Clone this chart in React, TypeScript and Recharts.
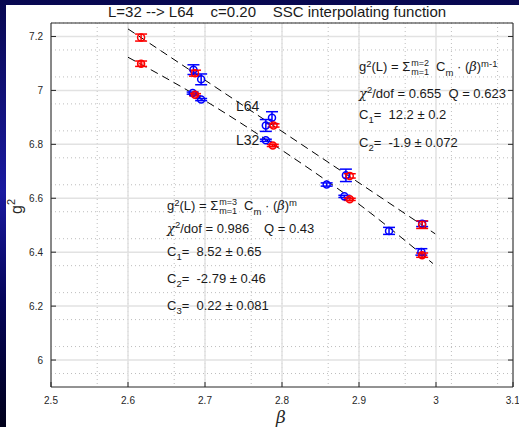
import React from 'react';
import {
  ComposedChart,
  Scatter,
  Line,
  XAxis,
  YAxis,
  CartesianGrid,
  ErrorBar,
} from 'recharts';

// beta (b), g^2 (g), error (e)
const blueUpper = [
  { b: 2.685, g: 7.077, e: 0.018 },
  { b: 2.695, g: 7.041, e: 0.02 },
  { b: 2.779, g: 6.87, e: 0.022 },
  { b: 2.787, g: 6.899, e: 0.022 },
  { b: 2.883, g: 6.685, e: 0.023 },
  { b: 2.982, g: 6.505, e: 0.01 },
];
const blueLower = [
  { b: 2.684, g: 6.99, e: 0.004 },
  { b: 2.695, g: 6.966, e: 0.004 },
  { b: 2.779, g: 6.815, e: 0.004 },
  { b: 2.858, g: 6.651, e: 0.006 },
  { b: 2.881, g: 6.607, e: 0.004 },
  { b: 2.939, g: 6.479, e: 0.013 },
  { b: 2.981, g: 6.401, e: 0.012 },
];
const redUpper = [
  { b: 2.617, g: 7.196, e: 0.013 },
  { b: 2.687, g: 7.064, e: 0.011 },
  { b: 2.789, g: 6.87, e: 0.006 },
  { b: 2.888, g: 6.683, e: 0.008 },
  { b: 2.982, g: 6.502, e: 0.014 },
];
const redLower = [
  { b: 2.617, g: 7.099, e: 0.01 },
  { b: 2.687, g: 6.984, e: 0.004 },
  { b: 2.788, g: 6.796, e: 0.004 },
  { b: 2.888, g: 6.596, e: 0.004 },
  { b: 2.982, g: 6.389, e: 0.008 },
];

// dashed fit curves
const fitL64 = [
  { b: 2.6, g: 7.228 },
  { b: 2.8, g: 6.848 },
  { b: 2.999, g: 6.468 },
];
const fitL32 = [
  { b: 2.6, g: 7.123 },
  { b: 2.7, g: 6.962 },
  { b: 2.8, g: 6.778 },
  { b: 2.9, g: 6.578 },
  { b: 2.996, g: 6.358 },
];

const betaTicks = [2.5, 2.6, 2.7, 2.8, 2.9, 3, 3.1];
const gTicks = [6, 6.2, 6.4, 6.6, 6.8, 7, 7.2];
const minorBeta = Array.from({ length: 29 }, (_, i) => +(2.52 + i * 0.02).toFixed(2));
const minorG = Array.from({ length: 27 }, (_, i) => +(5.95 + i * 0.05).toFixed(2));

const font = '"Liberation Sans", Arial, Helvetica, sans-serif';
const tickStyle = { fontSize: 10, fill: '#262626', fontFamily: font };
const axisColor = '#262626';

const circle = (color: string, fill: string) => (props: any) => (
  <circle cx={props.cx} cy={props.cy} r={3.5} fill={fill} stroke={color} strokeWidth={1.5} />
);

const Stack = ({ top, bottom }: { top: string; bottom: string }) => (
  <span
    style={{
      display: 'inline-flex',
      flexDirection: 'column',
      fontSize: 9,
      lineHeight: '9px',
      verticalAlign: 'middle',
      margin: '0 7px 0 1px',
    }}
  >
    <span>{top}</span>
    <span>{bottom}</span>
  </span>
);

const sup = { fontSize: 9.5, lineHeight: 0, verticalAlign: '0.5em' } as const;
const sub = { fontSize: 9.5, lineHeight: 0, verticalAlign: '-0.45em' } as const;
const greek = { fontFamily: '"DejaVu Serif", serif', fontStyle: 'italic' } as const;

const Txt = ({ x, y, children, size = 13 }: any) => (
  <div
    style={{
      position: 'absolute',
      left: x,
      top: y - 7,
      fontSize: size,
      lineHeight: '14px',
      fontFamily: font,
      color: '#1a1a1a',
      whiteSpace: 'pre',
    }}
  >
    {children}
  </div>
);

export default function App() {
  return (
    <div
      style={{
        position: 'fixed',
        left: 0,
        top: 0,
        width: 519,
        height: 427,
        overflow: 'hidden',
        background: 'linear-gradient(180deg, #080850 0%, #1a1aa0 45%, #05055a 70%, #00001a 100%)',
      }}
    >
      <div style={{ position: 'absolute', left: 6, top: 5, width: 513, height: 422, background: '#fff' }} />
      <div style={{ position: 'absolute', left: 0, top: 0 }}>
        <ComposedChart width={519} height={427} margin={{ top: 22, right: 5, bottom: 10, left: 11 }}>
          <CartesianGrid
            verticalValues={minorBeta}
            horizontalValues={minorG}
            stroke="#bdbdbd"
            strokeDasharray="1 3"
            fill="none"
          />
          <CartesianGrid
            verticalValues={betaTicks}
            horizontalValues={gTicks}
            stroke="#e2e2e2"
            strokeWidth={1.5}
            fill="none"
          />
          <XAxis
            dataKey="b"
            type="number"
            domain={[2.5, 3.1]}
            ticks={betaTicks}
            allowDataOverflow
            height={30}
            tickSize={-5}
            tickMargin={15}
            stroke={axisColor}
            tick={tickStyle}
          />
          <XAxis
            xAxisId="top"
            orientation="top"
            type="number"
            domain={[2.5, 3.1]}
            ticks={betaTicks}
            allowDataOverflow
            height={1}
            tickSize={-5}
            tickFormatter={() => ''}
            stroke={axisColor}
          />
          <YAxis
            dataKey="g"
            type="number"
            domain={[5.9, 7.25]}
            ticks={gTicks}
            allowDataOverflow
            width={40}
            tickSize={-5}
            tickMargin={13}
            stroke={axisColor}
            tick={tickStyle}
          />
          <YAxis
            yAxisId="right"
            orientation="right"
            type="number"
            domain={[5.9, 7.25]}
            ticks={gTicks}
            allowDataOverflow
            width={1}
            tickSize={-5}
            tickFormatter={() => ''}
            stroke={axisColor}
          />
          <Line
            data={fitL64}
            dataKey="g"
            type="monotone"
            stroke="#000"
            strokeWidth={1}
            strokeDasharray="8 5"
            dot={false}
            isAnimationActive={false}
          />
          <Line
            data={fitL32}
            dataKey="g"
            type="monotone"
            stroke="#000"
            strokeWidth={1}
            strokeDasharray="8 5"
            dot={false}
            isAnimationActive={false}
          />
          <Scatter data={blueUpper} dataKey="g" shape={circle('#0000ff', 'none')} isAnimationActive={false}>
            <ErrorBar dataKey="e" direction="y" width={6} stroke="#0000ff" strokeWidth={1.5} />
          </Scatter>
          <Scatter data={blueLower} dataKey="g" shape={circle('#0000ff', 'none')} isAnimationActive={false}>
            <ErrorBar dataKey="e" direction="y" width={6} stroke="#0000ff" strokeWidth={1.5} />
          </Scatter>
          <Scatter data={redUpper} dataKey="g" shape={circle('#ff0000', 'none')} isAnimationActive={false}>
            <ErrorBar dataKey="e" direction="y" width={6} stroke="#ff0000" strokeWidth={1.5} />
          </Scatter>
          <Scatter data={redLower} dataKey="g" shape={circle('#ff0000', 'rgba(255,0,0,0.45)')} isAnimationActive={false}>
            <ErrorBar dataKey="e" direction="y" width={6} stroke="#ff0000" strokeWidth={1.5} />
          </Scatter>
        </ComposedChart>
      </div>

      {/* title */}
      <Txt x={108} y={12} size={15}>
        {'L=32 --> L64    c=0.20    SSC interpolating function'}
      </Txt>

      {/* axis labels */}
      <div
        style={{
          position: 'absolute',
          left: 8,
          top: 193,
          fontSize: 16,
          lineHeight: '16px',
          fontFamily: font,
          color: '#262626',
          transform: 'rotate(-90deg)',
          transformOrigin: '11px 10px',
          whiteSpace: 'pre',
        }}
      >
        g<span style={{ fontSize: 11, verticalAlign: '0.6em', lineHeight: 0 }}>2</span>
      </div>
      <div
        style={{
          position: 'absolute',
          left: 276,
          top: 408,
          fontSize: 17,
          lineHeight: '18px',
          fontFamily: '"DejaVu Serif", serif',
          fontStyle: 'italic',
          color: '#262626',
        }}
      >
        β
      </div>

      {/* line labels */}
      <Txt x={236} y={106} size={14}>L64</Txt>
      <Txt x={236} y={140} size={14}>L32</Txt>

      {/* upper annotation */}
      <Txt x={359} y={66}>
        g<span style={sup}>2</span>(L) = Σ<Stack top="m=2" bottom="m=1" />C<span style={sub}>m</span> · (
        <span style={greek}>β</span>)<span style={sup}>m-1</span>
      </Txt>
      <Txt x={359} y={94}>
        <span style={greek}>χ</span>
        <span style={sup}>2</span>/dof = 0.655  Q = 0.623
      </Txt>
      <Txt x={359} y={115}>
        C<span style={sub}>1</span>=  12.2 ± 0.2
      </Txt>
      <Txt x={359} y={143}>
        C<span style={sub}>2</span>=  -1.9 ± 0.072
      </Txt>

      {/* lower annotation */}
      <Txt x={167} y={205}>
        g<span style={sup}>2</span>(L) = Σ<Stack top="m=3" bottom="m=1" />C<span style={sub}>m</span> · (
        <span style={greek}>β</span>)<span style={sup}>m</span>
      </Txt>
      <Txt x={167} y={229}>
        <span style={greek}>χ</span>
        <span style={sup}>2</span>/dof = 0.986
      </Txt>
      <Txt x={264} y={229}>Q = 0.43</Txt>
      <Txt x={167} y={252}>
        C<span style={sub}>1</span>=  8.52 ± 0.65
      </Txt>
      <Txt x={167} y={279}>
        C<span style={sub}>2</span>=  -2.79 ± 0.46
      </Txt>
      <Txt x={167} y={306}>
        C<span style={sub}>3</span>=  0.22 ± 0.081
      </Txt>
    </div>
  );
}
